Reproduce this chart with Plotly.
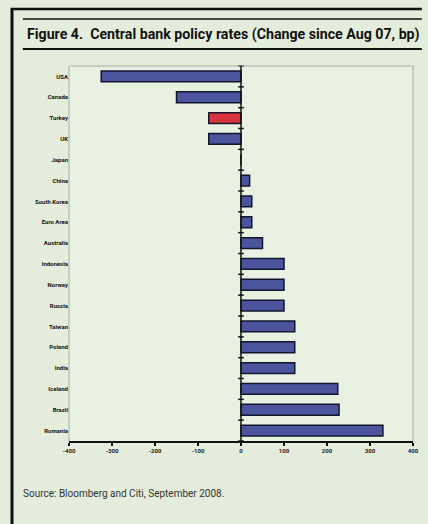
import plotly.graph_objects as go

countries = ["USA", "Canada", "Turkey", "UK", "Japan", "China", "South Korea", "Euro Area",
             "Australia", "Indonesia", "Norway", "Russia", "Taiwan", "Poland", "India",
             "Iceland", "Brazil", "Romania"]
changes = [-325, -150, -75, -75, 0, 20, 25, 25, 50, 100, 100, 100, 125, 125, 125, 225, 228, 330]
highlight = ["Turkey"]
x_ticks = [-400, -300, -200, -100, 0, 100, 200, 300, 400]
title_text = "Figure 4.  Central bank policy rates (Change since Aug 07, bp)"
source_text = "Source: Bloomberg and Citi, September 2008."

W, H = 428, 524
L, R, T, B = 69, 9, 66, 83

idx = list(range(len(countries)))
colors = ["#d8343f" if c in highlight else "#4b559e" for c in countries]

fig = go.Figure()
fig.add_trace(go.Bar(
    x=changes, y=idx, orientation="h",
    marker=dict(color=colors, line=dict(color="#15152e", width=1.5)),
    width=0.52, hoverinfo="skip", showlegend=False,
))
# tick marks on the zero (category) axis, between categories
bounds = [i - 0.5 for i in range(len(countries) + 1)]
fig.add_trace(go.Scatter(
    x=[0] * len(bounds), y=bounds, mode="markers",
    marker=dict(symbol="line-ew", size=4, line=dict(color="#111", width=1.5)),
    hoverinfo="skip", showlegend=False, cliponaxis=False,
))

def px(xp):
    return (xp - L) / (W - L - R)

def py(yp):
    return (H - B - yp) / (H - T - B)

fig.update_layout(
    width=W, height=H,
    margin=dict(l=L, r=R, t=T, b=B),
    paper_bgcolor="#e4eddb",
    plot_bgcolor="#e9f1e3",
    font=dict(family="Roboto, Liberation Sans, sans-serif", color="#222"),
    xaxis=dict(
        range=[-400, 400], tickvals=x_ticks, ticktext=["<b>%d</b>" % v for v in x_ticks],
        showgrid=False, zeroline=False, showline=True, linecolor="#111", linewidth=2,
        ticks="outside", ticklen=3, tickcolor="#111", tickwidth=1.5,
        tickfont=dict(size=6, color="#222"), fixedrange=True,
    ),
    yaxis=dict(
        range=[len(countries) - 0.5, -0.5], tickvals=idx,
        ticktext=["<b>" + c + "</b>" for c in countries],
        showgrid=False, zeroline=False, showline=False, ticks="",
        tickfont=dict(size=6, color="#111"), fixedrange=True,
    ),
    shapes=[
        dict(type="line", xref="paper", yref="paper", x0=0, x1=1, y0=1, y1=1,
             line=dict(color="#a8aca0", width=1)),
        dict(type="line", xref="paper", yref="paper", x0=1, x1=1, y0=0, y1=1,
             line=dict(color="#a8aca0", width=1)),
        dict(type="line", xref="paper", yref="paper", x0=0, x1=0, y0=0, y1=1,
             line=dict(color="#a8aca0", width=1)),
        dict(type="line", xref="x", yref="paper", x0=0, x1=0, y0=0, y1=1,
             line=dict(color="#111", width=1.5)),
    ],
    annotations=[
        dict(text="<b>" + title_text + "</b>", xref="paper", yref="paper",
             x=px(24), y=py(34),
             xanchor="left", yanchor="middle", showarrow=False,
             font=dict(family="Roboto, Liberation Sans, sans-serif", size=14.2, color="#111")),
        dict(text=source_text, xref="paper", yref="paper",
             x=px(20), y=py(493),
             xanchor="left", yanchor="middle", showarrow=False,
             font=dict(size=10, color="#333")),
    ],
)

frame = [
    dict(x0=px(11), x1=px(11), y0=py(8), y1=py(524), w=3),
    dict(x0=px(10), x1=px(428), y0=py(9), y1=py(9), w=2.5),
    dict(x0=px(22), x1=px(428), y0=py(19), y1=py(19), w=1.5),
    dict(x0=px(22), x1=px(428), y0=py(49), y1=py(49), w=2),
]
for f in frame:
    fig.add_shape(type="line", xref="paper", yref="paper",
                  x0=f["x0"], x1=f["x1"], y0=f["y0"], y1=f["y1"],
                  line=dict(color="#111", width=f["w"]))

fig.write_html("out.html")
